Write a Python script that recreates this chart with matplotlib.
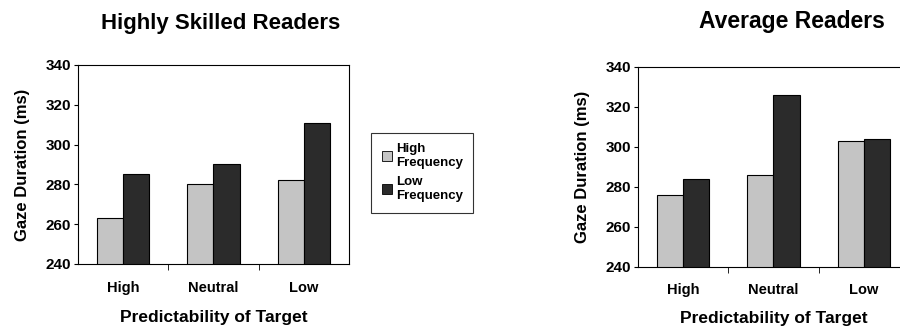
import matplotlib
matplotlib.use("Agg")
import matplotlib.pyplot as plt
from matplotlib.lines import Line2D
import numpy as np

categories = ["High", "Neutral", "Low"]
skilled_high_freq = [263, 280, 282]
skilled_low_freq = [285, 290, 311]
average_high_freq = [276, 286, 303]
average_low_freq = [284, 326, 304]
yticks = [240, 260, 280, 300, 320, 340]
series_names = ["High\nFrequency", "Low\nFrequency"]

plt.rcParams['font.family'] = ['Liberation Sans', 'DejaVu Sans']
plt.rcParams['font.weight'] = 'bold'

HF_COLOR = "#c4c4c4"
LF_COLOR = "#2b2b2b"

fig = plt.figure(figsize=(9, 3.27), dpi=100)

def draw(ax, hf, lf, xlabpad):
    x = np.arange(len(categories))
    w = 0.29
    ax.bar(x - w / 2, hf, width=w, color=HF_COLOR, edgecolor="black", linewidth=0.8, zorder=2)
    ax.bar(x + w / 2, lf, width=w, color=LF_COLOR, edgecolor="black", linewidth=0.8, zorder=2)
    ax.set_xlim(-0.5, 2.5)
    ax.set_ylim(240, 340)
    ax.set_yticks(yticks)
    ax.set_yticklabels([str(t) for t in yticks], fontsize=11, fontweight='bold')
    ax.set_xticks(x)
    ax.set_xticklabels(categories, fontsize=10.5, fontweight='bold')
    ax.tick_params(axis='x', which='major', length=0, pad=12)
    ax.set_xticks([0.5, 1.5], minor=True)
    ax.tick_params(axis='x', which='minor', length=4, direction='out')
    ax.tick_params(axis='y', length=3, direction='out', pad=2)
    for s in ax.spines.values():
        s.set_linewidth(0.8)
    ax.set_ylabel("Gaze Duration (ms)", fontsize=12, fontweight='bold', labelpad=11)
    ax.set_xlabel("Predictability of Target", fontsize=12.5, fontweight='bold', labelpad=xlabpad)

ax1 = fig.add_axes([0.0867, 0.1927, 0.301, 0.6086])
draw(ax1, skilled_high_freq, skilled_low_freq, 11)
ax2 = fig.add_axes([0.7089, 0.1844, 0.301, 0.6116])
draw(ax2, average_high_freq, average_low_freq, 10)

fig.text(0.2456, 0.927, "Highly Skilled Readers", ha='center', va='center', fontsize=16, fontweight='bold')
fig.text(0.88, 0.933, "Average Readers", ha='center', va='center', fontsize=16.5, fontweight='bold')

handles = [Line2D([], [], marker='s', linestyle='none', markersize=7.5, markerfacecolor=HF_COLOR, markeredgecolor='black', markeredgewidth=0.6),
           Line2D([], [], marker='s', linestyle='none', markersize=7.5, markerfacecolor=LF_COLOR, markeredgecolor='black', markeredgewidth=0.6)]
leg = fig.legend(handles, series_names, loc='center', bbox_to_anchor=(0.469, 0.472),
                 frameon=True, fancybox=False, edgecolor='black', prop={'size': 9.5, 'weight': 'bold'},
                 handlelength=0.8, handletextpad=0.3, labelspacing=0.55, borderpad=0.8)
leg.get_frame().set_linewidth(0.8)

fig.savefig("out.png", dpi=100)
